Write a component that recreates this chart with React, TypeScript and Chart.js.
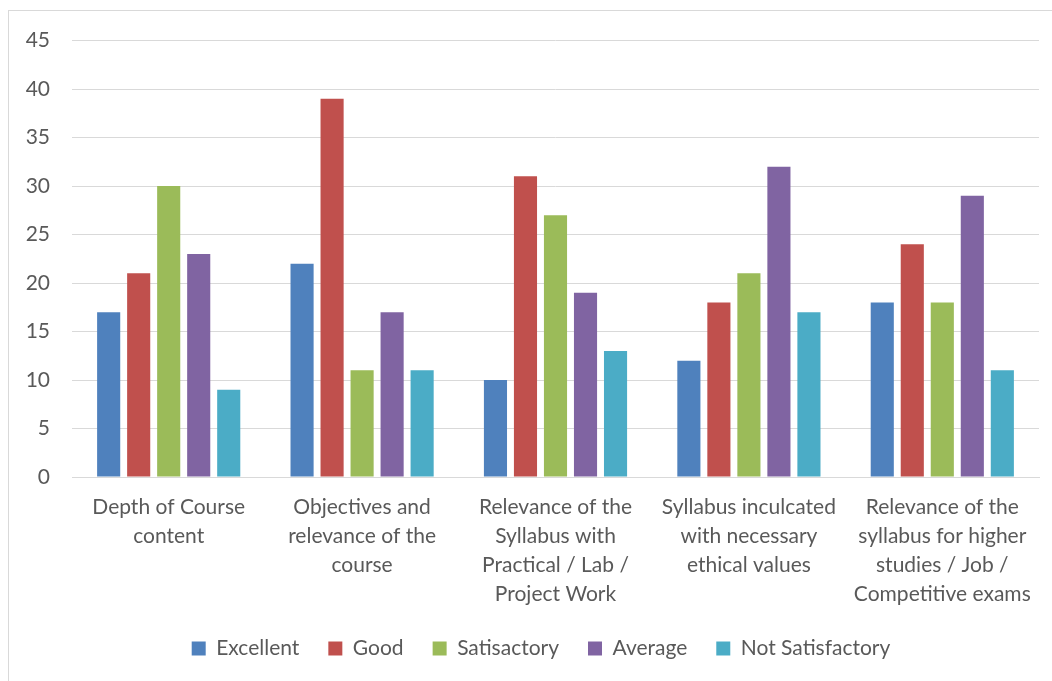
import React, { useEffect, useRef } from "react";
import { Chart, registerables } from "chart.js";

Chart.register(...registerables);

const categories: string[][] = [
  ["Depth of Course", "content"],
  ["Objectives and", "relevance of the", "course"],
  ["Relevance of the", "Syllabus with", "Practical / Lab /", "Project Work"],
  ["Syllabus inculcated", "with necessary", "ethical values"],
  ["Relevance of the", "syllabus for higher", "studies / Job /", "Competitive exams"],
];

const excellent = [17, 22, 10, 12, 18];
const good = [21, 39, 31, 18, 24];
const satisfactory = [30, 11, 27, 21, 18];
const average = [23, 17, 19, 32, 29];
const notSatisfactory = [9, 11, 13, 17, 11];

const seriesNames = ["Excellent", "Good", "Satisactory", "Average", "Not Satisfactory"];
const seriesColors = ["#4F81BD", "#C0504D", "#9BBB59", "#8064A2", "#4BACC6"];

const FONT = "Lato, 'Open Sans', sans-serif";

const legendShift = {
  id: "legendShift",
  afterLayout(chart: any) {
    if (chart.legend) {
      chart.legend.left += 17;
      chart.legend.right += 17;
    }
  },
};

export default function App() {
  const ref = useRef<HTMLCanvasElement | null>(null);

  useEffect(() => {
    if (!ref.current) return;
    const values = [excellent, good, satisfactory, average, notSatisfactory];
    const chart = new Chart(ref.current, {
      type: "bar",
      data: {
        labels: categories,
        datasets: values.map((v, i) => ({
          label: seriesNames[i],
          data: v,
          backgroundColor: seriesColors[i],
          borderWidth: 0,
          barPercentage: 0.77,
          categoryPercentage: 0.776,
        })),
      },
      plugins: [legendShift],
      options: {
        animation: false,
        responsive: false,
        maintainAspectRatio: false,
        layout: { padding: { left: 0, right: 13, top: 20, bottom: 7 } },
        plugins: {
          tooltip: { enabled: false },
          legend: {
            position: "bottom",
            labels: {
              boxWidth: 14,
              boxHeight: 14,
              padding: 29,
              color: "#595959",
              font: { family: FONT, size: 21 },
            },
          },
        },
        scales: {
          x: {
            grid: { display: false, drawTicks: false },
            border: { display: true, color: "#d9d9d9", width: 1 },
            ticks: {
              color: "#595959",
              font: { family: FONT, size: 21, lineHeight: 1.38 },
              padding: 16,
              maxRotation: 0,
              autoSkip: false,
            },
            afterFit: (scale: any) => {
              scale.height = 132;
            },
          },
          y: {
            min: 0,
            max: 45,
            grid: { color: "#d9d9d9", lineWidth: 1, drawTicks: false },
            border: { display: false },
            ticks: {
              stepSize: 5,
              color: "#595959",
              font: { family: FONT, size: 21 },
              padding: 22,
            },
            afterFit: (scale: any) => {
              scale.width = 63;
            },
          },
        },
      },
    });
    return () => chart.destroy();
  }, []);

  return (
    <div
      style={{
        position: "absolute",
        left: 8,
        top: 10,
        width: 1100,
        height: 700,
        borderLeft: "1px solid #d9d9d9",
        borderTop: "1px solid #d9d9d9",
        background: "#fff",
      }}
    >
      <canvas
        ref={ref}
        width={1043}
        height={670}
        style={{ display: "block", position: "relative", top: -5 }}
      />
    </div>
  );
}
